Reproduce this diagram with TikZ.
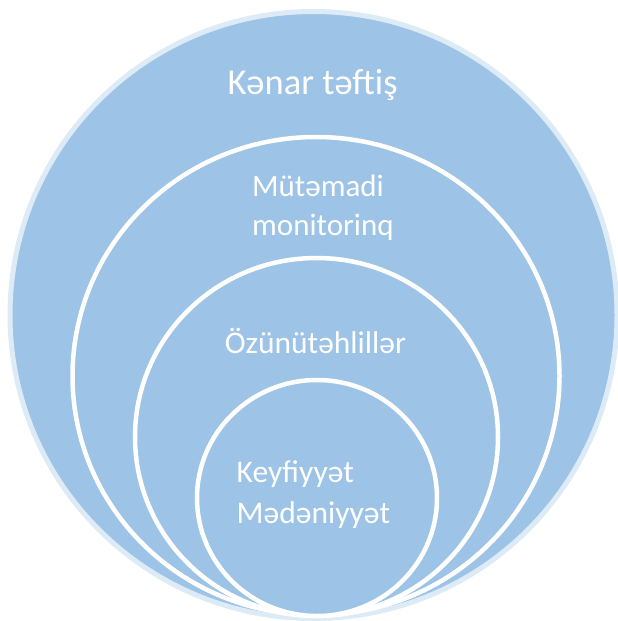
\documentclass[tikz,border=0pt]{standalone}
\usepackage{fontspec}
\setmainfont{Carlito}
\definecolor{cfill}{HTML}{9DC3E6}
\definecolor{cring}{HTML}{DDEBF7}
\tikzset{
  ring/.style={fill=cfill, draw=white, line width=4.5pt},
  lbl/.style={text=white, inner sep=0pt, align=left},
}
\begin{document}
\begin{tikzpicture}[x=1pt,y=-1pt]
\useasboundingbox (0,0) rectangle (618,621);
\draw[fill=cfill, draw=cring, line width=5pt] (313.5,315) circle (303.5);
\draw[ring] (316,376) ellipse [x radius=243.5, y radius=239];
\draw[ring] (316.5,437) ellipse [x radius=181.5, y radius=179];
\draw[ring] (317,498) ellipse [x radius=120, y radius=118];
\node[lbl, anchor=base, font=\fontsize{36.5}{44}\selectfont] (t1) at (312.5,94) {Kənar təftiş};
\node[lbl, anchor=base west, font=\fontsize{31}{39}\selectfont] (t2) at (252,235) {Mütəmadi\\monitorinq};
\node[lbl, anchor=base, font=\fontsize{31.5}{38}\selectfont] (t3) at (315.5,353) {Özünütəhlillər};
\node[lbl, anchor=base west, font=\fontsize{31.5}{41}\selectfont] (t4) at (236.5,523) {Keyfiyyət\\Mədəniyyət};
\end{tikzpicture}
\end{document}
